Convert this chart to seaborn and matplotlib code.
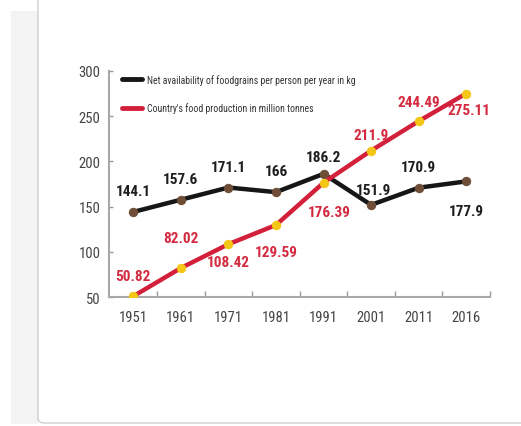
import matplotlib
matplotlib.use("Agg")
import matplotlib.pyplot as plt
import seaborn as sns
import pandas as pd
from matplotlib.patches import Rectangle, FancyBboxPatch

years = ["1951", "1961", "1971", "1981", "1991", "2001", "2011", "2016"]
availability = [144.1, 157.6, 171.1, 166, 186.2, 151.9, 170.9, 177.9]
production = [50.82, 82.02, 108.42, 129.59, 176.39, 211.9, 244.49, 275.11]
availability_labels = ["144.1", "157.6", "171.1", "166", "186.2", "151.9", "170.9", "177.9"]
production_labels = ["50.82", "82.02", "108.42", "129.59", "176.39", "211.9", "244.49", "275.11"]
yticks = [50, 100, 150, 200, 250, 300]
legend_labels = ["Net availability of foodgrains per person per year in kg",
                 "Country's food production in million tonnes"]

# label offsets in pixels (layout)
avail_off = [(0, 21), (0, 21), (0, 21), (0, 21), (0, 17), (2, 15), (0, 21), (0, -30)]
prod_off = [(0, 20), (0, 30), (0, -18), (0, -27), (6, -29), (0, 16), (0, 19), (3, -16)]

sns.set_theme(style="white")
plt.rcParams['font.family'] = ['Roboto Condensed', 'Archivo Narrow', 'Sofia Sans Condensed', 'DejaVu Sans']

W, H = 521, 427
fig = plt.figure(figsize=(W / 100, H / 100), dpi=100)
fig.patch.set_facecolor("white")

# page background strip and card
fig.patches.append(Rectangle((11 / W, 1 - 425 / H), 27 / W, (425 - 12) / H,
                             transform=fig.transFigure, facecolor="#f3f3f3",
                             edgecolor="none", zorder=-2))
fig.patches.append(FancyBboxPatch((38 / W, 1 - 424 / H), 2.0, 2.0,
                                  boxstyle="round,pad=0,rounding_size=0.012",
                                  transform=fig.transFigure, facecolor="white",
                                  edgecolor="#cfcfcf", linewidth=1.0, zorder=-1))

ax = fig.add_axes([109 / W, 1 - 298 / H, (490 - 109) / W, (298 - 72) / H])
ax.set_facecolor("none")

x = list(range(len(years)))
df = pd.DataFrame({"x": x, "avail": availability, "prod": production})

black = "#161616"
red = "#d3203a"
sns.lineplot(data=df, x="x", y="avail", ax=ax, color=black, linewidth=3.2,
             marker="o", markersize=6, markerfacecolor="#6e4e36",
             markeredgecolor="#6e4e36", label=legend_labels[0], zorder=3)
sns.lineplot(data=df, x="x", y="prod", ax=ax, color=red, linewidth=3.2,
             marker="o", markersize=6, markerfacecolor="#f4c616",
             markeredgecolor="#f4c616", label=legend_labels[1], zorder=4)

for xi, v, s, off in zip(x, availability, availability_labels, avail_off):
    ax.annotate(s, (xi, v), xytext=off, textcoords="offset pixels",
                ha="center", va="center", fontsize=11, fontweight="bold",
                color="#1e1e1e")
for xi, v, s, off in zip(x, production, production_labels, prod_off):
    ax.annotate(s, (xi, v), xytext=off, textcoords="offset pixels",
                ha="center", va="center", fontsize=11, fontweight="bold",
                color="#d42a40")

ax.set_xlim(-0.51, 7.47)
ax.set_ylim(50, 300)
ax.set_xticks(x)
ax.set_xticklabels(years)
ax.set_xticks([i + 0.5 for i in range(0, 8)], minor=True)
ax.set_yticks(yticks)
ax.set_xlabel("")
ax.set_ylabel("")
ax.tick_params(axis="x", which="major", length=0, pad=9, labelsize=10.5, labelcolor="#444444")
ax.tick_params(axis="x", which="minor", direction="in", length=4, width=1, color="#999999", bottom=True)
ax.tick_params(axis="y", which="major", direction="in", length=3, width=1, color="#999999",
               pad=6, labelsize=10.5, labelcolor="#444444", left=True)
for side in ["top", "right"]:
    ax.spines[side].set_visible(False)
for side in ["left", "bottom"]:
    ax.spines[side].set_color("#a8a8a8")
    ax.spines[side].set_linewidth(1.5)

leg = ax.legend(loc="upper left", bbox_to_anchor=(0.025, 1.005), frameon=False,
                fontsize=7, handlelength=2.0, handletextpad=0.5, labelspacing=1.8,
                borderaxespad=0)
for t in leg.get_texts():
    t.set_color("#333333")
for h in leg.get_lines():
    h.set_linewidth(3.5)
    h.set_marker("")

fig.savefig("out.png", dpi=100)
